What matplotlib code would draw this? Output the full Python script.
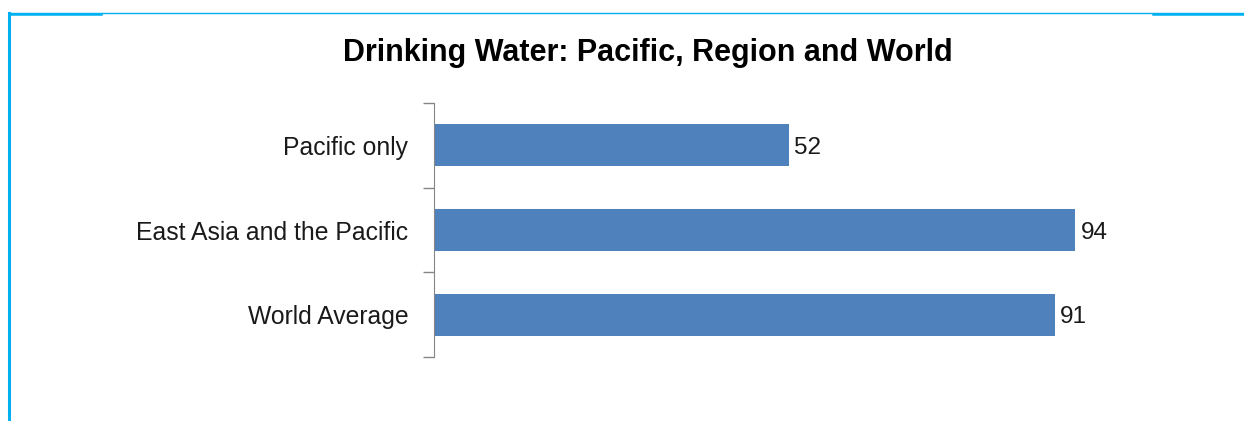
import matplotlib.pyplot as plt
from matplotlib.lines import Line2D

# Drinking water access (%) by area
categories = ["Pacific only", "East Asia and the Pacific", "World Average"]
values = [52, 94, 91]

W, H = 1244, 421
fig = plt.figure(figsize=(W / 100, H / 100), dpi=100)
plt.rcParams['font.family'] = ['Liberation Sans', 'DejaVu Sans']

def fx(px):
    return px / W

def fy(py):
    return 1 - py / H

# cyan frame lines along top and left edge
cyan = "#00B0F0"
fig.add_artist(Line2D([fx(9), fx(9)], [fy(13), fy(421)], color=cyan, lw=2.2))
fig.add_artist(Line2D([fx(9), fx(1244)], [fy(13), fy(13)], color=cyan, lw=1.0))
fig.add_artist(Line2D([fx(9), fx(101)], [fy(13.5), fy(13.5)], color=cyan, lw=1.8))
fig.add_artist(Line2D([fx(1153), fx(1244)], [fy(13.5), fy(13.5)], color=cyan, lw=1.8))

ax = fig.add_axes([fx(434), fy(357), fx(1116) - fx(434), fy(103) - fy(357)])
pos = list(range(len(categories)))
bars = ax.barh(pos, values, height=0.5, color="#4F81BD")
ax.set_ylim(len(categories) - 0.5, -0.5)
ax.set_xlim(0, 100)
ax.set_yticks(pos)
ax.set_yticklabels(categories, fontsize=17.8, color="#1a1a1a")
ax.tick_params(axis="y", length=0, pad=18.5)
# tick marks between categories
ax.set_yticks([-0.5, 0.5, 1.5, 2.5], minor=True)
ax.tick_params(axis="y", which="minor", length=8, color="#868686", width=1)
ax.set_xticks([])
for s in ["top", "right", "bottom"]:
    ax.spines[s].set_visible(False)
ax.spines["left"].set_color("#868686")

for b, v in zip(bars, values):
    ax.text(v + 0.8, b.get_y() + b.get_height() / 2 + 0.03, str(v),
            va="center", ha="left", fontsize=17.5, color="#1a1a1a")

fig.text(fx(648), fy(53), "Drinking Water: Pacific, Region and World",
         ha="center", va="center", fontsize=22, fontweight="bold")

fig.savefig("out.png", dpi=100)
